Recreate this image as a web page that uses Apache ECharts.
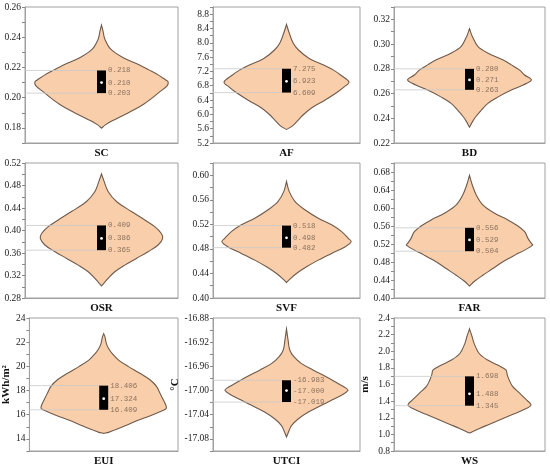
<!DOCTYPE html>
<html>
<head>
<meta charset="utf-8">
<script src="https://cdn.jsdelivr.net/npm/echarts@6/dist/echarts.min.js"></script>
<style>
  html, body { margin: 0; padding: 0; background: #fff; }
  #chart { width: 550px; height: 467px; }
</style>
</head>
<body>
<div id="chart"></div>
<script>
// indicators, one violin per panel
const categories = ['SC', 'AF', 'BD', 'OSR', 'SVF', 'FAR', 'EUI', 'UTCI', 'WS'];
const yNames = ['', '', '', '', '', '', 'kWh/m\u00b2', '\u00b0C', 'm/s'];

// quartiles shown next to the box
const q1 = [0.203, 6.609, 0.263, 0.365, 0.482, 0.504, 16.409, -17.019, 1.345];
const medians = [0.210, 6.923, 0.271, 0.386, 0.498, 0.529, 17.324, -17.000, 1.488];
const q3 = [0.218, 7.275, 0.280, 0.409, 0.518, 0.556, 18.406, -16.983, 1.698];

// axis extents and tick labels
const yMin = [0.17, 5.2, 0.22, 0.28, 0.40, 0.40, 13, -17.10, 0.8];
const yMax = [0.26, 9.0, 0.33, 0.52, 0.62, 0.70, 24, -16.88, 2.4];
const yStep = [0.01, 0.2, 0.01, 0.02, 0.02, 0.02, 1, 0.02, 0.1];
const tickDigits = [2, 1, 2, 2, 2, 2, 0, 2, 1];
const tickLabels = [
  ['0.18', '0.20', '0.22', '0.24', '0.26'],
  ['5.2', '5.6', '6.0', '6.4', '6.8', '7.2', '7.6', '8.0', '8.4', '8.8'],
  ['0.22', '0.24', '0.26', '0.28', '0.30', '0.32'],
  ['0.28', '0.32', '0.36', '0.40', '0.44', '0.48', '0.52'],
  ['0.40', '0.44', '0.48', '0.52', '0.56', '0.60'],
  ['0.40', '0.44', '0.48', '0.52', '0.56', '0.60', '0.64', '0.68'],
  ['14', '16', '18', '20', '22', '24'],
  ['-17.08', '-17.04', '-17.00', '-16.96', '-16.92', '-16.88'],
  ['0.8', '1.0', '1.2', '1.4', '1.6', '1.8', '2.0', '2.2', '2.4']
];

// violin outlines: [value, half width as share of the category band]
const scViolin = [[0.248, 0], [0.244, 0.01], [0.2387, 0.022], [0.2319, 0.062], [0.2263, 0.145], [0.2218, 0.245], [0.2184, 0.31], [0.2151, 0.37], [0.2117, 0.42], [0.2106, 0.435], [0.208, 0.43], [0.2038, 0.38], [0.196, 0.28], [0.1892, 0.16], [0.1847, 0.07], [0.182, 0.025], [0.1798, 0]];
const afViolin = [[8.516, 0], [8.279, 0.018], [7.994, 0.045], [7.805, 0.08], [7.568, 0.152], [7.331, 0.277], [7.236, 0.32], [7.094, 0.37], [6.904, 0.425], [6.762, 0.39], [6.62, 0.345], [6.383, 0.255], [6.193, 0.175], [6.004, 0.118], [5.814, 0.073], [5.672, 0.039], [5.578, 0]];
const bdViolin = [[0.3124, 0], [0.3064, 0.018], [0.2982, 0.055], [0.2928, 0.12], [0.2873, 0.22], [0.2832, 0.277], [0.2791, 0.33], [0.275, 0.365], [0.271, 0.41], [0.2669, 0.355], [0.2628, 0.277], [0.2573, 0.19], [0.2519, 0.12], [0.2464, 0.077], [0.241, 0.04], [0.2369, 0.018], [0.2328, 0]];
const osrViolin = [[0.5004, 0], [0.4873, 0.017], [0.4694, 0.043], [0.4515, 0.098], [0.4337, 0.196], [0.4188, 0.283], [0.4069, 0.348], [0.395, 0.39], [0.3861, 0.40], [0.3742, 0.37], [0.3623, 0.304], [0.3504, 0.228], [0.3385, 0.152], [0.3266, 0.087], [0.3147, 0.043], [0.3016, 0]];
const svfViolin = [[0.5902, 0], [0.5738, 0.018], [0.5574, 0.057], [0.5437, 0.125], [0.53, 0.216], [0.5191, 0.31], [0.5082, 0.375], [0.4973, 0.42], [0.4918, 0.44], [0.4836, 0.40], [0.4727, 0.307], [0.4617, 0.216], [0.4508, 0.136], [0.4399, 0.068], [0.4317, 0.027], [0.4251, 0]];
const farViolin = [[0.6726, 0], [0.6517, 0.018], [0.6293, 0.044], [0.607, 0.088], [0.5884, 0.166], [0.5735, 0.254], [0.5623, 0.31], [0.5474, 0.365], [0.5325, 0.387], [0.5213, 0.41], [0.5176, 0.418], [0.5064, 0.365], [0.4953, 0.30], [0.4804, 0.221], [0.4655, 0.155], [0.4506, 0.088], [0.4372, 0.033], [0.4267, 0]];
const euiViolin = [[22.70, 0], [22.42, 0.009], [21.88, 0.018], [21.47, 0.033], [21.07, 0.056], [20.52, 0.10], [19.98, 0.167], [19.43, 0.244], [18.89, 0.311], [18.35, 0.355], [17.80, 0.378], [17.26, 0.40], [16.72, 0.42], [16.50, 0.42], [16.31, 0.39], [15.90, 0.31], [15.50, 0.222], [15.09, 0.144], [14.76, 0.078], [14.54, 0.033], [14.46, 0]];
const utciViolin = [[-16.898, 0], [-16.917, 0.011], [-16.933, 0.022], [-16.944, 0.05], [-16.955, 0.10], [-16.966, 0.18], [-16.977, 0.27], [-16.988, 0.348], [-16.996, 0.405], [-17.000, 0.418], [-17.007, 0.38], [-17.015, 0.315], [-17.026, 0.225], [-17.036, 0.146], [-17.047, 0.079], [-17.058, 0.034], [-17.066, 0.018], [-17.077, 0]];
const wsViolin = [[2.27, 0], [2.171, 0.018], [2.092, 0.031], [1.973, 0.064], [1.894, 0.12], [1.835, 0.186], [1.775, 0.241], [1.716, 0.25], [1.657, 0.262], [1.578, 0.285], [1.499, 0.33], [1.42, 0.374], [1.353, 0.407], [1.301, 0.365], [1.242, 0.288], [1.183, 0.21], [1.123, 0.133], [1.072, 0.066], [1.017, 0]];
const violins = [scViolin, afViolin, bdViolin, osrViolin, svfViolin, farViolin, euiViolin, utciViolin, wsViolin];

const colLeft = [25, 213, 394];
const colRight = [372, 190, 5];
const rowTop = [7, 163, 318];
const rowBottom = [324, 169, 15];
const nameGaps = [0, 0, 0, 0, 0, 0, 14, 27, 23];

const serif = '"Liberation Serif", "Times New Roman", serif';
const fill = '#F9CEAB';
const edge = '#6f5a4b';
const labelColor = '#8b735f';

function renderViolin(i) {
  return function (params, api) {
    const mid = api.coord([0, medians[i]]);
    const cx = mid[0];
    const bw = api.size([1, 0])[0];
    const prof = violins[i];
    const pts = prof.map(p => [cx + p[1] * bw, api.coord([0, p[0]])[1]])
      .concat(prof.slice().reverse().map(p => [cx - p[1] * bw, api.coord([0, p[0]])[1]]));
    const y1 = api.coord([0, q1[i]])[1];
    const y3 = api.coord([0, q3[i]])[1];
    const boxW = 9;
    const x0 = params.coordSys.x;
    const txt = (v, y) => ({
      type: 'text',
      style: {
        text: v.toFixed(3), x: cx + boxW / 2 + 2, y: y,
        verticalAlign: 'middle', align: 'left',
        fontFamily: '"Liberation Mono", monospace', fontSize: 7.5, fill: labelColor
      }
    });
    return {
      type: 'group',
      children: [
        { type: 'polygon', shape: { points: pts, smooth: 0.35 }, style: { fill: fill, stroke: edge, lineWidth: 1.1 } },
        { type: 'line', shape: { x1: x0, y1: y1, x2: cx - boxW / 2, y2: y1 }, style: { stroke: '#c9c9c9', lineWidth: 0.8 } },
        { type: 'line', shape: { x1: x0, y1: y3, x2: cx - boxW / 2, y2: y3 }, style: { stroke: '#c9c9c9', lineWidth: 0.8 } },
        { type: 'rect', shape: { x: cx - boxW / 2, y: y3, width: boxW, height: y1 - y3 }, style: { fill: '#000' } },
        { type: 'circle', shape: { cx: cx, cy: mid[1], r: 1.4 }, style: { fill: '#fff' } },
        txt(q3[i], y3), txt(medians[i], mid[1]), txt(q1[i], y1)
      ]
    };
  };
}

const grids = [], xAxes = [], yAxes = [], series = [];
categories.forEach((cat, i) => {
  const r = Math.floor(i / 3), c = i % 3;
  grids.push({
    left: colLeft[c], right: colRight[c], top: rowTop[r], bottom: rowBottom[r],
    show: true, borderColor: '#a0a0a0', borderWidth: 1, backgroundColor: 'transparent'
  });
  xAxes.push({
    type: 'category', gridIndex: i, data: [cat], boundaryGap: true,
    axisLine: { show: true, lineStyle: { color: '#a0a0a0' } },
    axisTick: { show: false },
    axisLabel: { margin: 5, fontFamily: serif, fontWeight: 'bold', fontSize: 11, color: '#111' }
  });
  yAxes.push({
    type: 'value', gridIndex: i, min: yMin[i], max: yMax[i], interval: yStep[i],
    name: yNames[i], nameLocation: 'middle', nameGap: nameGaps[i],
    nameTextStyle: { fontFamily: serif, fontWeight: 'bold', fontSize: 11, color: '#111' },
    axisLine: { show: true, lineStyle: { color: '#a0a0a0' } },
    axisTick: { show: true, length: 3, lineStyle: { color: '#888' } },
    splitLine: { show: false },
    axisLabel: {
      margin: 4, fontFamily: serif, fontSize: 9.5, color: '#222',
      showMinLabel: true, showMaxLabel: true,
      formatter: v => {
        const s = v.toFixed(tickDigits[i]);
        return tickLabels[i].indexOf(s) >= 0 ? s : '';
      }
    }
  });
  series.push({
    type: 'custom', xAxisIndex: i, yAxisIndex: i,
    renderItem: renderViolin(i),
    data: [[0, medians[i]]],
    silent: true
  });
});

const chart = echarts.init(document.getElementById('chart'), null, { renderer: 'canvas' });
chart.setOption({
  animation: false,
  backgroundColor: '#fff',
  grid: grids,
  xAxis: xAxes,
  yAxis: yAxes,
  series: series
});
</script>
</body>
</html>
